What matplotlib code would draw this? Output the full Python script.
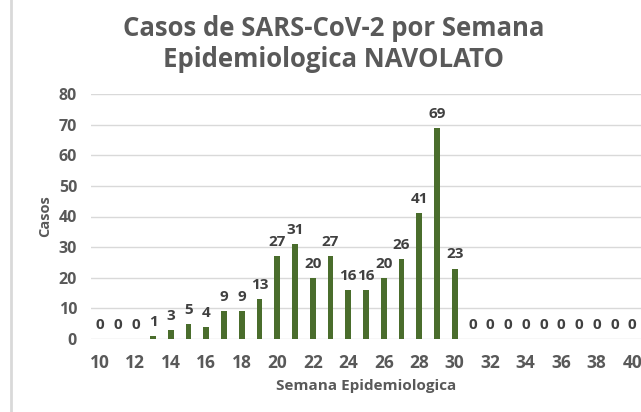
import matplotlib.pyplot as plt
from matplotlib.lines import Line2D

semanas = list(range(10, 41))
casos = [0, 0, 0, 1, 3, 5, 4, 9, 9, 13, 27, 31, 20, 27, 16, 16, 20, 26, 41, 69, 23,
         0, 0, 0, 0, 0, 0, 0, 0, 0, 0]
yticks = [0, 10, 20, 30, 40, 50, 60, 70, 80]
xticks = list(range(10, 41, 2))

plt.rcParams['font.family'] = ['Open Sans', 'DejaVu Sans']
gris = '#595959'

fig = plt.figure(figsize=(6.41, 4.12), dpi=100)
ax = fig.add_axes([91 / 641, 1 - 339 / 412, 550 / 641, 245 / 412])

ax.bar(semanas, casos, width=0.32, color='#4a6d2c', zorder=3)
for s, c in zip(semanas, casos):
    ax.text(s, c + 4.6, str(c), ha='center', va='center', fontsize=11,
            fontweight='bold', color='#404040')

ax.set_xlim(9.5, 40.5)
ax.set_ylim(0, 80)
ax.set_yticks(yticks)
ax.set_xticks(xticks)
ax.grid(axis='y', color='#d9d9d9', linewidth=1, zorder=0)
for sp in ax.spines.values():
    sp.set_visible(False)
ax.tick_params(length=0, labelcolor=gris)
ax.tick_params(axis='x', pad=11, labelsize=12.5)
ax.tick_params(axis='y', pad=10, labelsize=11.5)
for lbl in ax.get_xticklabels() + ax.get_yticklabels():
    lbl.set_fontweight('bold')

ax.set_xlabel('Semana Epidemiologica', fontsize=11, fontweight='bold',
              color=gris, labelpad=5)
ax.set_ylabel('Casos', fontsize=10.5, fontweight='bold', color=gris, labelpad=5)

fig.text(0.52, 1 - 44 / 412, 'Casos de SARS-CoV-2 por Semana\nEpidemiologica NAVOLATO',
         ha='center', va='center', fontsize=18.5, fontweight='bold', color=gris,
         linespacing=1.22)

# borde izquierdo del area del grafico
fig.add_artist(Line2D([11 / 641, 11 / 641], [0, 1], color='#d9d9d9', linewidth=2))

fig.savefig('out.png', dpi=100)
